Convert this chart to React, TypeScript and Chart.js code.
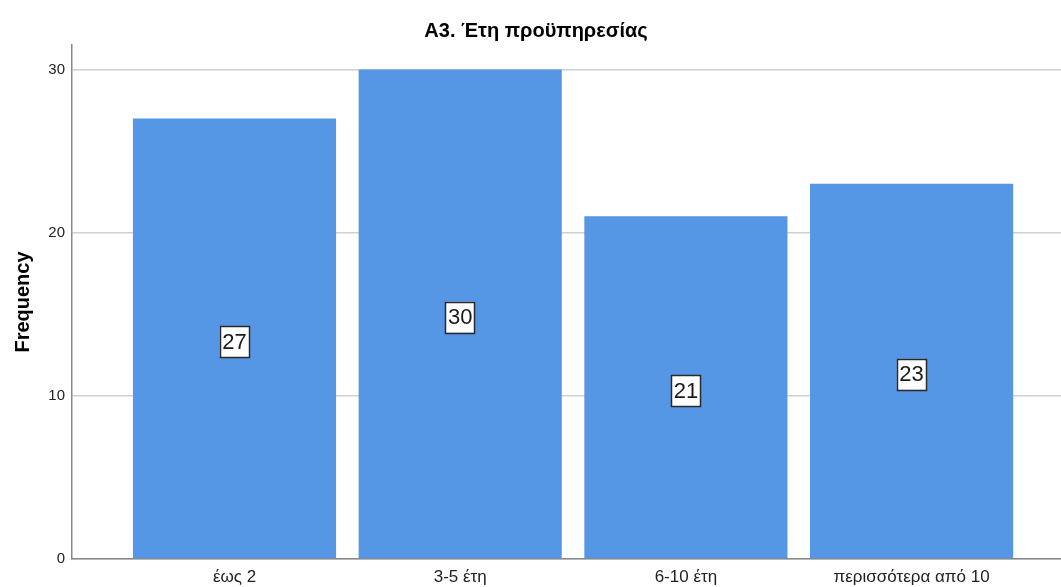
import React, { useEffect, useRef } from "react";
import { Chart, registerables } from "chart.js";

Chart.register(...registerables);

const categories = ["έως 2", "3-5 έτη", "6-10 έτη", "περισσότερα από 10"];
const frequencies = [27, 30, 21, 23];
const yTicks = [0, 10, 20, 30];

const BAR_COLOR = "#5596e5";
const FONT = "'Liberation Sans', Arial, sans-serif";

// Draws the value of every bar in a white framed box at the bar's mid-height.
const valueBoxes = {
  id: "valueBoxes",
  afterDatasetsDraw(chart: any) {
    const { ctx } = chart;
    const meta = chart.getDatasetMeta(0);
    const yScale = chart.scales.y;
    ctx.save();
    ctx.font = `22px ${FONT}`;
    ctx.textAlign = "center";
    ctx.textBaseline = "middle";
    meta.data.forEach((bar: any, i: number) => {
      const v = frequencies[i];
      const cx = bar.x;
      const cy = yScale.getPixelForValue(v / 2) + 3;
      const text = String(v);
      const w = ctx.measureText(text).width + 5;
      const h = 31;
      ctx.fillStyle = "#ffffff";
      ctx.fillRect(cx - w / 2, cy - h / 2, w, h);
      ctx.strokeStyle = "#2a2a2a";
      ctx.lineWidth = 1.5;
      ctx.strokeRect(Math.round(cx - w / 2) + 0.5, Math.round(cy - h / 2) + 0.5, Math.round(w), h);
      ctx.fillStyle = "#1a1a1a";
      ctx.fillText(text, cx, cy + 1);
    });
    ctx.restore();
  },
};

// Centred chart title.
const titlePlugin = {
  id: "titleText",
  afterDraw(chart: any) {
    const { ctx } = chart;
    ctx.save();
    ctx.font = `bold 20px ${FONT}`;
    ctx.fillStyle = "#000000";
    ctx.textAlign = "center";
    ctx.textBaseline = "middle";
    ctx.fillText("A3. Έτη προϋπηρεσίας", 536, 31);
    ctx.restore();
  },
};

export default function App() {
  const canvasRef = useRef<HTMLCanvasElement | null>(null);

  useEffect(() => {
    if (!canvasRef.current) return;
    const chart = new Chart(canvasRef.current, {
      type: "bar",
      data: {
        datasets: [
          {
            label: "Frequency",
            data: frequencies.map((v, i) => ({ x: i, y: v })),
            backgroundColor: BAR_COLOR,
            borderWidth: 0,
            barPercentage: 0.9,
            categoryPercentage: 1,
          },
        ],
      },
      options: {
        animation: false,
        responsive: false,
        maintainAspectRatio: false,
        layout: { padding: { top: 45, left: 0, right: 0, bottom: 0 } },
        plugins: {
          legend: { display: false },
          tooltip: { enabled: false },
          title: { display: false },
        },
        scales: {
          x: {
            type: "linear",
            offset: false,
            min: -0.72,
            max: 3.662,
            afterBuildTicks(scale: any) {
              scale.ticks = categories.map((_, i) => ({ value: i }));
            },
            afterFit(scale: any) {
              scale.height = 28;
            },
            ticks: {
              callback: (v: any) => categories[Number(v)] ?? "",
              color: "#222222",
              font: { family: FONT, size: 17 },
              padding: 8,
              maxRotation: 0,
              autoSkip: false,
            },
            grid: { display: false, drawTicks: false },
            border: { display: true, color: "#888888", width: 1.5 },
          },
          y: {
            min: 0,
            max: 31.5,
            afterBuildTicks(scale: any) {
              scale.ticks = yTicks.map((v) => ({ value: v }));
            },
            afterFit(scale: any) {
              scale.width = 72;
            },
            ticks: {
              color: "#222222",
              font: { family: FONT, size: 15 },
              padding: 7,
            },
            grid: {
              color: "#d0d0d0",
              lineWidth: 1.5,
              drawTicks: false,
            },
            border: { display: true, color: "#888888", width: 1.5 },
            title: {
              display: true,
              text: "Frequency",
              color: "#000000",
              font: { family: FONT, size: 20, weight: "bold" },
              padding: { top: 11, bottom: 20 },
            },
          },
        },
      },
      plugins: [valueBoxes, titlePlugin],
    });
    return () => chart.destroy();
  }, []);

  return (
    <div style={{ position: "fixed", left: 0, top: 0, width: 1061, height: 587, background: "#ffffff" }}>
      <canvas ref={canvasRef} width={1061} height={587} style={{ display: "block" }} />
    </div>
  );
}
